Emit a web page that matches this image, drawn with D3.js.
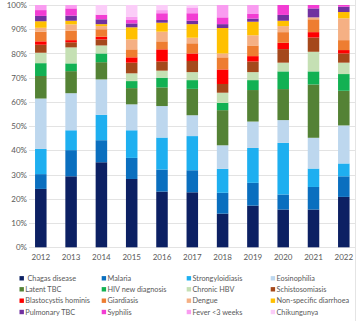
<!DOCTYPE html>
<html><head><meta charset="utf-8">
<script src="https://cdn.jsdelivr.net/npm/d3@7"></script>
<style>
html,body{margin:0;padding:0;background:#fff;}
svg{display:block;font-family:Lato,"Open Sans",sans-serif;}
</style></head>
<body><svg id="c" width="360" height="321"></svg>
<script>
const years = ["2012","2013","2014","2015","2016","2017","2018","2019","2020","2021","2022"];
const seriesNames = ["Chagas disease","Malaria","Strongyloidiasis","Eosinophilia","Latent TBC","HIV new diagnosis","Chronic HBV","Schistosomiasis","Blastocystis hominis","Giardiasis","Dengue","Non-specific diarrhoea","Pulmonary TBC","Syphilis","Fever <3 weeks","Chikungunya"];
const seriesColors = ["#0c2063","#0a6fbf","#1eaff0","#bdd7ee","#548235","#12b153","#c5e0b4","#a5481b","#fe0000","#ee7d31","#f5b084","#ffc000","#7131a0","#f23dd3","#f99cf0","#fbcdf8"];
// percentage shares per year (index matches years)
const chagas      = [24.1,29.3,35.1,28.2,23.0,22.7,13.9,17.2,15.6,15.6,20.8];
const malaria     = [ 6.1,10.8, 9.1, 8.7, 9.1, 9.1, 8.6, 9.4, 6.2, 9.3, 8.5];
const strongy     = [10.4, 8.2,10.5,11.4,13.2,14.1, 9.9,14.4,21.3, 7.6, 5.3];
const eosino      = [20.8,15.3,14.6,10.7,13.0, 8.6, 9.7,10.9, 9.4,12.7,15.7];
const latentTbc   = [ 9.3, 9.1, 7.1, 6.7, 7.7,10.9,14.5,13.0,12.8,22.0,14.3];
const hiv         = [ 5.3, 3.2, 3.6, 2.9, 4.0, 3.6, 3.0, 4.1, 7.3, 5.4, 6.9];
const hbv         = [ 4.3, 6.6, 3.3, 3.2, 2.9, 3.3, 4.2, 3.3, 3.6, 8.1, 4.7];
const schisto     = [ 3.3, 2.1, 2.5, 4.4, 3.8, 4.6, 3.6, 4.4, 5.6, 5.9, 3.8];
const blasto      = [ 1.4, 0.9, 1.1, 2.2, 5.0, 3.1, 6.0, 2.2, 2.6, 2.2, 1.4];
const giardia     = [ 4.0, 3.9, 3.1, 3.3, 3.3, 4.2, 5.0, 4.4, 4.4, 5.3, 4.1];
const dengue      = [ 1.6, 2.6, 1.3, 4.1, 4.0, 2.3, 1.6, 4.2, 2.5, 0.8, 9.0];
const diarrhoea   = [ 2.7, 1.5, 0.8, 5.0, 3.7, 5.6,10.5, 5.6, 2.2, 0.0, 2.6];
const pulmTbc     = [ 2.2, 2.1, 2.0, 1.6, 1.1, 1.4, 1.6, 1.3, 2.4, 3.7, 2.2];
const syphilis    = [ 2.4, 3.0, 1.9, 1.4, 2.8, 3.1, 2.8, 1.9, 4.1, 1.4, 0.7];
const fever       = [ 2.1, 1.4, 0.0, 1.4, 1.3, 2.4, 5.1, 3.7, 0.0, 0.0, 0.0];
const chikungunya = [ 0.0, 0.0, 4.0, 4.8, 2.1, 1.0, 0.0, 0.0, 0.0, 0.0, 0.0];
const yTicks = [0,0.1,0.2,0.3,0.4,0.5,0.6,0.7,0.8,0.9,1];

const allSeries = [chagas,malaria,strongy,eosino,latentTbc,hiv,hbv,schisto,blasto,giardia,dengue,diarrhoea,pulmTbc,syphilis,fever,chikungunya];
const rows = years.map((y,i)=>{const o={year:y}; seriesNames.forEach((n,k)=>o[n]=allSeries[k][i]); return o;});

const svg = d3.select("#c");
const x = d3.scaleBand().domain(years).range([25.65,358.95]).paddingInner(0.62).paddingOuter(0.31);
const y = d3.scaleLinear().domain([0,1]).range([247.3,5]);
const color = d3.scaleOrdinal().domain(seriesNames).range(seriesColors);

// chart border
svg.append("line").attr("x1",355.5).attr("x2",355.5).attr("y1",0).attr("y2",321).attr("stroke","#e4e4e4").attr("stroke-width",1);

// gridlines
svg.append("g").selectAll("line").data(yTicks).join("line")
  .attr("x1",29).attr("x2",355).attr("y1",d=>Math.round(y(d))+0.5).attr("y2",d=>Math.round(y(d))+0.5)
  .attr("stroke","#e3e3e3").attr("stroke-width",1);

// y axis
const yAxis = d3.axisLeft(y).tickValues(yTicks).tickFormat(d3.format(".0%")).tickSize(0).tickPadding(0);
const ga = svg.append("g").attr("transform","translate(27,0)").call(yAxis);
ga.select(".domain").remove();
ga.selectAll("text").attr("fill","#595959").style("font-size","8px").style("font-family","Lato,'Open Sans',sans-serif");

// stacks
const stack = d3.stack().keys(seriesNames).offset(d3.stackOffsetExpand);
const layers = stack(rows);
svg.append("g").selectAll("g").data(layers).join("g").attr("fill",d=>color(d.key))
  .selectAll("rect").data(d=>d).join("rect")
  .attr("x",d=>x(d.data.year)).attr("width",x.bandwidth())
  .attr("y",d=>y(d[1])).attr("height",d=>Math.max(0,y(d[0])-y(d[1])));

// x axis
const xAxis = d3.axisBottom(x).tickSize(0).tickPadding(0);
const gx = svg.append("g").attr("transform","translate(0,254)").call(xAxis);
gx.select(".domain").remove();
gx.selectAll("text").attr("fill","#595959").attr("dy","0.71em").style("font-size","8px").style("font-family","Lato,'Open Sans',sans-serif");

// legend
const colX = [19.5,101.7,186.7,270.7];
const rowY = [278.3,289.3,300.7,312];
const lg = svg.append("g").selectAll("g").data(seriesNames).join("g")
  .attr("transform",(d,i)=>`translate(${colX[i%4]},${rowY[Math.floor(i/4)]})`);
lg.append("rect").attr("x",0).attr("y",-2.2).attr("width",4.4).attr("height",4.4).attr("fill",d=>color(d));
lg.append("text").attr("x",d=>d==="Chagas disease"?8:5.8).attr("y",0).attr("dy","0.35em")
  .attr("fill","#595959").style("font-size","7.3px").text(d=>d);
</script></body></html>
